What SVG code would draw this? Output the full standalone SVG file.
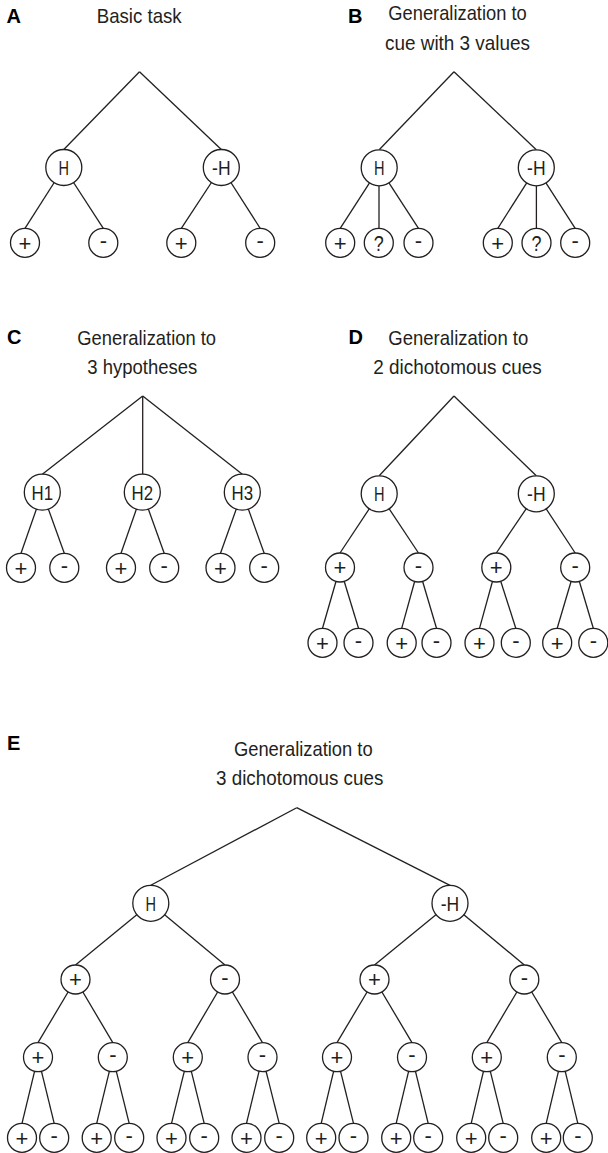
<svg xmlns="http://www.w3.org/2000/svg" width="608" height="1153" viewBox="0 0 608 1153">
<style>
text{font-family:"Liberation Sans",Arial,sans-serif;fill:#231f20;text-anchor:middle}
.lab{font-size:20px;font-weight:bold;fill:#000;text-anchor:start}
.ttl{font-size:21px}
.e line{stroke:#231f20;stroke-width:1.3}
circle{fill:#fff;stroke:#231f20;stroke-width:1.3}
.big text{font-size:21px}
.lf text{font-size:22px}
</style>
<rect width="608" height="1153" fill="#fff"/>
<g id="titles">
<text class="lab" x="6.5" y="22.7">A</text>
<text class="ttl" x="139.2" y="23" textLength="85" lengthAdjust="spacingAndGlyphs">Basic task</text>
<text class="lab" x="348" y="22.7">B</text>
<text class="ttl" x="457.5" y="20" textLength="138.5" lengthAdjust="spacingAndGlyphs">Generalization to</text>
<text class="ttl" x="457.5" y="49.5" textLength="145" lengthAdjust="spacingAndGlyphs">cue with 3 values</text>
<text class="lab" x="7" y="344">C</text>
<text class="ttl" x="146.7" y="345" textLength="138.7" lengthAdjust="spacingAndGlyphs">Generalization to</text>
<text class="ttl" x="142.3" y="374" textLength="110" lengthAdjust="spacingAndGlyphs">3 hypotheses</text>
<text class="lab" x="348.5" y="343.5">D</text>
<text class="ttl" x="458.3" y="344.5" textLength="140" lengthAdjust="spacingAndGlyphs">Generalization to</text>
<text class="ttl" x="457.5" y="373.5" textLength="168.4" lengthAdjust="spacingAndGlyphs">2 dichotomous cues</text>
<text class="lab" x="7" y="750">E</text>
<text class="ttl" x="303.3" y="756" textLength="138.7" lengthAdjust="spacingAndGlyphs">Generalization to</text>
<text class="ttl" x="299.7" y="785" textLength="167.3" lengthAdjust="spacingAndGlyphs">3 dichotomous cues</text>
</g>
<g id="connectors" class="e">
<line x1="139.5" y1="71.7" x2="63.8" y2="149.5"/><line x1="139.5" y1="71.7" x2="221.3" y2="149.5"/>
<line x1="63.8" y1="167.5" x2="25" y2="228.3"/><line x1="63.8" y1="167.5" x2="103.3" y2="228.3"/>
<line x1="221.3" y1="167.5" x2="181.3" y2="228.3"/><line x1="221.3" y1="167.5" x2="260.2" y2="228.3"/>
<line x1="454" y1="71.7" x2="379.2" y2="149.8"/><line x1="454" y1="71.7" x2="536.3" y2="149.8"/>
<line x1="379.2" y1="167.8" x2="340.2" y2="228.3"/><line x1="379" y1="167.8" x2="379" y2="228.3"/><line x1="379.2" y1="167.8" x2="418.5" y2="228.3"/>
<line x1="536.3" y1="167.8" x2="497.8" y2="228.3"/><line x1="536.4" y1="167.8" x2="536.4" y2="228.3"/><line x1="536.3" y1="167.8" x2="575.2" y2="228.3"/>
<line x1="142.7" y1="396" x2="42.3" y2="474.2"/><line x1="142.7" y1="396" x2="142.7" y2="474.2"/><line x1="142.7" y1="396" x2="242.3" y2="474.2"/>
<line x1="42.3" y1="492.2" x2="21" y2="553.3"/><line x1="42.3" y1="492.2" x2="64.3" y2="553.3"/>
<line x1="142.3" y1="492.2" x2="121" y2="553.3"/><line x1="142.3" y1="492.2" x2="164.2" y2="553.3"/>
<line x1="242.3" y1="492.2" x2="220.5" y2="553.3"/><line x1="242.3" y1="492.2" x2="264.2" y2="553.3"/>
<line x1="454" y1="396" x2="379.2" y2="475.8"/><line x1="454" y1="396" x2="536.3" y2="475.8"/>
<line x1="379.2" y1="493.8" x2="340" y2="553"/><line x1="379.2" y1="493.8" x2="418.5" y2="553"/>
<line x1="536.3" y1="493.8" x2="496.3" y2="553"/><line x1="536.3" y1="493.8" x2="575.2" y2="553"/>
<line x1="340" y1="567.5" x2="322.5" y2="628.3"/><line x1="340" y1="567.5" x2="358.5" y2="628.3"/>
<line x1="418.5" y1="567.5" x2="401.7" y2="628.3"/><line x1="418.5" y1="567.5" x2="436.5" y2="628.3"/>
<line x1="496.3" y1="567.5" x2="479.5" y2="628.3"/><line x1="496.3" y1="567.5" x2="515.8" y2="628.3"/>
<line x1="575.2" y1="567.5" x2="557.2" y2="628.3"/><line x1="575.2" y1="567.5" x2="593.3" y2="628.3"/>
<line x1="296.7" y1="807.7" x2="150.8" y2="885.3"/><line x1="296.7" y1="807.7" x2="450" y2="885.3"/>
<line x1="150.8" y1="903.3" x2="75.5" y2="965"/><line x1="150.8" y1="903.3" x2="225" y2="965"/>
<line x1="450" y1="903.3" x2="374.5" y2="965"/><line x1="450" y1="903.3" x2="524.3" y2="965"/>
<line x1="75.5" y1="979.5" x2="38" y2="1042.7"/><line x1="75.5" y1="979.5" x2="112.8" y2="1042.7"/>
<line x1="225" y1="979.5" x2="187.8" y2="1042.7"/><line x1="225" y1="979.5" x2="262.5" y2="1042.7"/>
<line x1="374.5" y1="979.5" x2="337" y2="1042.7"/><line x1="374.5" y1="979.5" x2="412" y2="1042.7"/>
<line x1="524.3" y1="979.5" x2="486.8" y2="1042.7"/><line x1="524.3" y1="979.5" x2="561.8" y2="1042.7"/>
<line x1="38" y1="1057.2" x2="22" y2="1123.3"/><line x1="38" y1="1057.2" x2="54.2" y2="1123.3"/>
<line x1="112.8" y1="1057.2" x2="96.7" y2="1123.3"/><line x1="112.8" y1="1057.2" x2="129.2" y2="1123.3"/>
<line x1="187.8" y1="1057.2" x2="171.5" y2="1123.3"/><line x1="187.8" y1="1057.2" x2="204.2" y2="1123.3"/>
<line x1="262.5" y1="1057.2" x2="246.5" y2="1123.3"/><line x1="262.5" y1="1057.2" x2="279.2" y2="1123.3"/>
<line x1="337" y1="1057.2" x2="321.2" y2="1123.3"/><line x1="337" y1="1057.2" x2="353.5" y2="1123.3"/>
<line x1="412" y1="1057.2" x2="396.2" y2="1123.3"/><line x1="412" y1="1057.2" x2="428.2" y2="1123.3"/>
<line x1="486.8" y1="1057.2" x2="471.2" y2="1123.3"/><line x1="486.8" y1="1057.2" x2="503.2" y2="1123.3"/>
<line x1="561.8" y1="1057.2" x2="546.2" y2="1123.3"/><line x1="561.8" y1="1057.2" x2="577.8" y2="1123.3"/>
</g>
<g class="big">
<g id="a-h"><circle cx="63.8" cy="167.5" r="18"/><text x="63.8" y="175" textLength="10.5" lengthAdjust="spacingAndGlyphs">H</text></g>
<g id="a-nh"><circle cx="221.3" cy="167.5" r="18"/><text x="221.3" y="175" textLength="18.5" lengthAdjust="spacingAndGlyphs">-H</text></g>
</g>
<g class="lf">
<g id="a-h-p"><circle cx="25" cy="242.8" r="14.5"/><text x="25" y="250.5">+</text></g>
<g id="a-h-m"><circle cx="103.3" cy="242.8" r="14.5"/><text x="103.3" y="247.8">-</text></g>
<g id="a-nh-p"><circle cx="181.3" cy="242.8" r="14.5"/><text x="181.3" y="250.5">+</text></g>
<g id="a-nh-m"><circle cx="260.2" cy="242.8" r="14.5"/><text x="260.2" y="247.8">-</text></g>
</g>
<g class="big">
<g id="b-h"><circle cx="379.2" cy="167.8" r="18"/><text x="379.2" y="175.3" textLength="10.5" lengthAdjust="spacingAndGlyphs">H</text></g>
<g id="b-nh"><circle cx="536.3" cy="167.8" r="18"/><text x="536.3" y="175.3" textLength="18.5" lengthAdjust="spacingAndGlyphs">-H</text></g>
</g>
<g class="lf">
<g id="b-h-p"><circle cx="340.2" cy="242.8" r="14.5"/><text x="340.2" y="250.5">+</text></g>
<g id="b-h-q"><circle cx="378.8" cy="242.8" r="14.5"/><text x="378.8" y="250.5" textLength="10" lengthAdjust="spacingAndGlyphs">?</text></g>
<g id="b-h-m"><circle cx="418.5" cy="242.8" r="14.5"/><text x="418.5" y="247.8">-</text></g>
<g id="b-nh-p"><circle cx="497.8" cy="242.8" r="14.5"/><text x="497.8" y="250.5">+</text></g>
<g id="b-nh-q"><circle cx="536.5" cy="242.8" r="14.5"/><text x="536.5" y="250.5" textLength="10" lengthAdjust="spacingAndGlyphs">?</text></g>
<g id="b-nh-m"><circle cx="575.2" cy="242.8" r="14.5"/><text x="575.2" y="247.8">-</text></g>
</g>
<g class="big">
<g id="c-h1"><circle cx="42.3" cy="492.2" r="18"/><text x="42.3" y="499.7" textLength="21.5" lengthAdjust="spacingAndGlyphs">H1</text></g>
<g id="c-h2"><circle cx="142.3" cy="492.2" r="18"/><text x="142.3" y="499.7" textLength="21.5" lengthAdjust="spacingAndGlyphs">H2</text></g>
<g id="c-h3"><circle cx="242.3" cy="492.2" r="18"/><text x="242.3" y="499.7" textLength="21.5" lengthAdjust="spacingAndGlyphs">H3</text></g>
</g>
<g class="lf">
<g id="c-h1-p"><circle cx="21" cy="567.8" r="14.5"/><text x="21" y="575.5">+</text></g>
<g id="c-h1-m"><circle cx="64.3" cy="567.8" r="14.5"/><text x="64.3" y="572.8">-</text></g>
<g id="c-h2-p"><circle cx="121" cy="567.8" r="14.5"/><text x="121" y="575.5">+</text></g>
<g id="c-h2-m"><circle cx="164.2" cy="567.8" r="14.5"/><text x="164.2" y="572.8">-</text></g>
<g id="c-h3-p"><circle cx="220.5" cy="567.8" r="14.5"/><text x="220.5" y="575.5">+</text></g>
<g id="c-h3-m"><circle cx="264.2" cy="567.8" r="14.5"/><text x="264.2" y="572.8">-</text></g>
</g>
<g class="big">
<g id="d-h"><circle cx="379.2" cy="493.8" r="18"/><text x="379.2" y="501.3" textLength="10.5" lengthAdjust="spacingAndGlyphs">H</text></g>
<g id="d-nh"><circle cx="536.3" cy="493.8" r="18"/><text x="536.3" y="501.3" textLength="18.5" lengthAdjust="spacingAndGlyphs">-H</text></g>
</g>
<g class="lf">
<g id="d-h-p"><circle cx="340" cy="567.5" r="14.5"/><text x="340" y="575.2">+</text></g>
<g id="d-h-m"><circle cx="418.5" cy="567.5" r="14.5"/><text x="418.5" y="572.5">-</text></g>
<g id="d-nh-p"><circle cx="496.3" cy="567.5" r="14.5"/><text x="496.3" y="575.2">+</text></g>
<g id="d-nh-m"><circle cx="575.2" cy="567.5" r="14.5"/><text x="575.2" y="572.5">-</text></g>
<g id="d-h-p-p"><circle cx="322.5" cy="642.8" r="14.5"/><text x="322.5" y="650.5">+</text></g>
<g id="d-h-p-m"><circle cx="358.5" cy="642.8" r="14.5"/><text x="358.5" y="647.8">-</text></g>
<g id="d-h-m-p"><circle cx="401.7" cy="642.8" r="14.5"/><text x="401.7" y="650.5">+</text></g>
<g id="d-h-m-m"><circle cx="436.5" cy="642.8" r="14.5"/><text x="436.5" y="647.8">-</text></g>
<g id="d-nh-p-p"><circle cx="479.5" cy="642.8" r="14.5"/><text x="479.5" y="650.5">+</text></g>
<g id="d-nh-p-m"><circle cx="515.8" cy="642.8" r="14.5"/><text x="515.8" y="647.8">-</text></g>
<g id="d-nh-m-p"><circle cx="557.2" cy="642.8" r="14.5"/><text x="557.2" y="650.5">+</text></g>
<g id="d-nh-m-m"><circle cx="593.3" cy="642.8" r="14.5"/><text x="593.3" y="647.8">-</text></g>
</g>
<g class="big">
<g id="e-h"><circle cx="150.8" cy="903.3" r="18"/><text x="150.8" y="910.8" textLength="10.5" lengthAdjust="spacingAndGlyphs">H</text></g>
<g id="e-nh"><circle cx="450" cy="903.3" r="18"/><text x="450" y="910.8" textLength="18.5" lengthAdjust="spacingAndGlyphs">-H</text></g>
</g>
<g class="lf">
<g id="e-h-p"><circle cx="75.5" cy="979.5" r="14.5"/><text x="75.5" y="987.2">+</text></g>
<g id="e-h-m"><circle cx="225" cy="979.5" r="14.5"/><text x="225" y="984.5">-</text></g>
<g id="e-nh-p"><circle cx="374.5" cy="979.5" r="14.5"/><text x="374.5" y="987.2">+</text></g>
<g id="e-nh-m"><circle cx="524.3" cy="979.5" r="14.5"/><text x="524.3" y="984.5">-</text></g>
<g id="e-h-p-p"><circle cx="38" cy="1057.2" r="14.5"/><text x="38" y="1064.9">+</text></g>
<g id="e-h-p-m"><circle cx="112.8" cy="1057.2" r="14.5"/><text x="112.8" y="1062.2">-</text></g>
<g id="e-h-m-p"><circle cx="187.8" cy="1057.2" r="14.5"/><text x="187.8" y="1064.9">+</text></g>
<g id="e-h-m-m"><circle cx="262.5" cy="1057.2" r="14.5"/><text x="262.5" y="1062.2">-</text></g>
<g id="e-nh-p-p"><circle cx="337" cy="1057.2" r="14.5"/><text x="337" y="1064.9">+</text></g>
<g id="e-nh-p-m"><circle cx="412" cy="1057.2" r="14.5"/><text x="412" y="1062.2">-</text></g>
<g id="e-nh-m-p"><circle cx="486.8" cy="1057.2" r="14.5"/><text x="486.8" y="1064.9">+</text></g>
<g id="e-nh-m-m"><circle cx="561.8" cy="1057.2" r="14.5"/><text x="561.8" y="1062.2">-</text></g>
<g id="e-1"><circle cx="22" cy="1137.8" r="14.5"/><text x="22" y="1145.5">+</text></g>
<g id="e-2"><circle cx="54.2" cy="1137.8" r="14.5"/><text x="54.2" y="1142.8">-</text></g>
<g id="e-3"><circle cx="96.7" cy="1137.8" r="14.5"/><text x="96.7" y="1145.5">+</text></g>
<g id="e-4"><circle cx="129.2" cy="1137.8" r="14.5"/><text x="129.2" y="1142.8">-</text></g>
<g id="e-5"><circle cx="171.5" cy="1137.8" r="14.5"/><text x="171.5" y="1145.5">+</text></g>
<g id="e-6"><circle cx="204.2" cy="1137.8" r="14.5"/><text x="204.2" y="1142.8">-</text></g>
<g id="e-7"><circle cx="246.5" cy="1137.8" r="14.5"/><text x="246.5" y="1145.5">+</text></g>
<g id="e-8"><circle cx="279.2" cy="1137.8" r="14.5"/><text x="279.2" y="1142.8">-</text></g>
<g id="e-9"><circle cx="321.2" cy="1137.8" r="14.5"/><text x="321.2" y="1145.5">+</text></g>
<g id="e-10"><circle cx="353.5" cy="1137.8" r="14.5"/><text x="353.5" y="1142.8">-</text></g>
<g id="e-11"><circle cx="396.2" cy="1137.8" r="14.5"/><text x="396.2" y="1145.5">+</text></g>
<g id="e-12"><circle cx="428.2" cy="1137.8" r="14.5"/><text x="428.2" y="1142.8">-</text></g>
<g id="e-13"><circle cx="471.2" cy="1137.8" r="14.5"/><text x="471.2" y="1145.5">+</text></g>
<g id="e-14"><circle cx="503.2" cy="1137.8" r="14.5"/><text x="503.2" y="1142.8">-</text></g>
<g id="e-15"><circle cx="546.2" cy="1137.8" r="14.5"/><text x="546.2" y="1145.5">+</text></g>
<g id="e-16"><circle cx="577.8" cy="1137.8" r="14.5"/><text x="577.8" y="1142.8">-</text></g>
</g>
</svg>
